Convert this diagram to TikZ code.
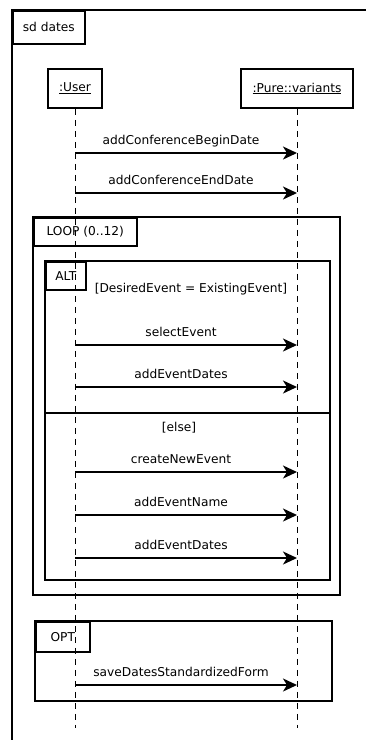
\documentclass[tikz,border=0pt]{standalone}
\usepackage{fontspec}
\setmainfont{DejaVu Sans}
\usetikzlibrary{arrows.meta,positioning}
\newcommand{\fsz}{\fontsize{12.2}{14}\selectfont}
\tikzset{
  head/.style={draw, line width=1.6pt, minimum height=39pt, inner sep=3pt, font=\fsz},
  tab/.style={draw, line width=1.6pt, anchor=north west, inner sep=0pt, font=\fsz},
  frame/.style={line width=1.6pt},
  life/.style={line width=0.9pt, dash pattern=on 6pt off 5pt},
  msg/.style={-{Stealth[length=14pt,width=13pt,inset=4pt]}, line width=1.8pt},
  lbl/.style={font=\fsz, text height=9pt, text depth=3pt, inner sep=0pt, above=5pt, xshift=-5pt},
  guard/.style={font=\fsz, inner sep=0pt},
}

\begin{document}
\begin{tikzpicture}[x=1pt,y=-1pt]
  \useasboundingbox (0,0) rectangle (365,740);
  % outer frame
  \draw[frame] (12,745) -- (12,10) -- (370,10);
  \node[tab, minimum width=72pt, minimum height=33pt] (sd) at (12,10) {sd dates};

  % lifeline heads
  \node[head, minimum width=54pt] (user) at (75,88.5) {\underline{:User}};
  \node[head, minimum width=112pt] (pv) at (297,88.5) {\underline{:Pure::variants}};
  \coordinate (userEnd) at (75,728);
  \coordinate (pvEnd) at (297,728);

  % combined fragments
  \draw[frame] (33,217) rectangle (340,595);
  \node[tab, minimum width=103pt, minimum height=28pt] (loop) at (33,217) {LOOP (0..12)};
  \draw[frame] (45,261) rectangle (330,580);
  \node[tab, minimum width=40pt, minimum height=28pt] (alt) at (45,261) {ALT};
  \node[guard] (g1) at (191,289) {[DesiredEvent = ExistingEvent]};
  \draw[frame] (45,413) -- (330,413);
  \node[guard] (g2) at (179,428) {[else]};
  \draw[frame] (35,621) rectangle (332,701);
  \node[tab, minimum width=54pt, minimum height=30pt] (opt) at (35,621) {OPT};

  % messages
  \foreach \y/\m [count=\i] in {153/addConferenceBeginDate, 193/addConferenceEndDate,
      345/selectEvent, 387/addEventDates, 472/createNewEvent, 515/addEventName,
      558/addEventDates, 685/saveDatesStandardizedForm}{
    \coordinate (u\i) at (75,\y);
    \coordinate (p\i) at (297,\y);
    \draw[msg] (u\i) -- node[lbl] {\m} (p\i);
  }

  % lifelines
  \draw[life] (user.south) -- (userEnd);
  \draw[life] (pv.south) -- (pvEnd);
\end{tikzpicture}
\end{document}
